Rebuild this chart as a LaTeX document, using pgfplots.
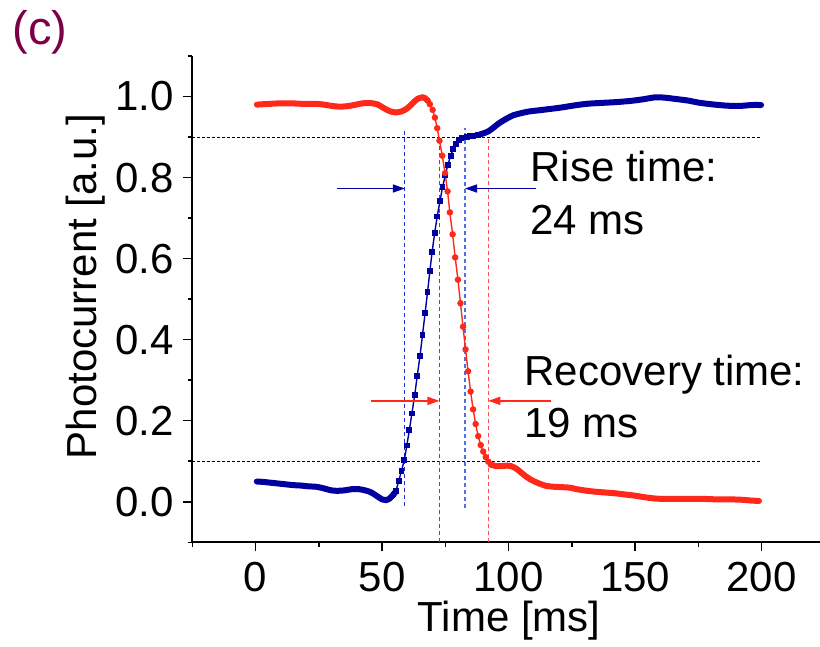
\documentclass[border=0pt]{standalone}
\usepackage{fontspec}
\setmainfont{Liberation Sans}
\usepackage{pgfplots}
\pgfplotsset{compat=1.18}
\usetikzlibrary{arrows.meta}
\definecolor{cblue}{RGB}{0,0,160}
\definecolor{cred}{RGB}{255,40,25}
\definecolor{clabel}{RGB}{122,0,72}
\definecolor{vblue1}{RGB}{30,50,220}
\definecolor{vblue2}{RGB}{80,110,235}
\definecolor{vred1}{RGB}{255,20,20}
\definecolor{vred2}{RGB}{255,80,80}
\newcommand{\bigf}{\fontsize{21}{25}\selectfont}
\begin{document}
\begin{tikzpicture}
\useasboundingbox (-96.15pt,-52.35pt) rectangle (313.85pt,271.15pt);
\begin{axis}[
  scale only axis, width=313.72pt, height=243.15pt,
  xmin=-25, xmax=223, ymin=-0.1, ymax=1.1,
  axis x line*=bottom, axis y line*=left,
  axis line style={line width=1pt, -},
  xtick={0,50,100,150,200}, minor xtick={-25,25,75,125,175},
  ytick={0,0.2,0.4,0.6,0.8,1.0}, minor ytick={-0.1,0.1,0.3,0.5,0.7,0.9,1.1},
  tick align=outside, major tick length=4.5pt, minor tick length=2.2pt,
  every tick/.style={line width=0.75pt, black},
  /pgf/number format/assume math mode=true,
  yticklabel style={/pgf/number format/.cd, fixed, fixed zerofill, precision=1, /tikz/.cd, font=\bigf, inner sep=0pt, xshift=-4.5pt},
  xticklabel style={font=\bigf, inner sep=0pt, yshift=-5pt},
  xlabel={Time [ms]}, ylabel={Photocurrent [a.u.]},
  xlabel style={at={(axis description cs:0.505,-0.1838)}, anchor=base, inner sep=0pt, font=\bigf},
  ylabel style={at={(axis description cs:-0.1524,0.526)}, anchor=base, inner sep=0pt, font=\bigf},
  clip=false,
]
% threshold lines
\addplot[black, line width=0.5pt, dash pattern=on 1.5pt off 1pt] coordinates {(-25,0.9) (200,0.9)};
\addplot[black, line width=0.5pt, dash pattern=on 1.5pt off 1pt] coordinates {(-25,0.1) (200,0.1)};
% vertical markers
\addplot[vblue1, line width=0.65pt, dash pattern=on 2pt off 1.5pt] coordinates {(59.0,-0.01) (59.0,0.915)};
\addplot[vblue2, line width=0.65pt, dash pattern=on 2pt off 1.5pt] coordinates {(82.8,-0.015) (82.8,0.923)};
\addplot[vred1, line width=0.65pt, dash pattern=on 2pt off 1.5pt] coordinates {(72.7,-0.1) (72.7,0.9)};
\addplot[vred2, line width=0.65pt, dash pattern=on 2pt off 1.5pt] coordinates {(92.0,-0.1) (92.0,0.9)};
% blue (rise) curve
\addplot[cblue, line width=3pt, smooth, line cap=round] coordinates {
(0.5,0.050) (3,0.049) (6,0.047) (9,0.045) (12,0.043) (15,0.041) (18,0.040) (21,0.038) (24,0.037) (27,0.033) (30,0.028) (32,0.027) (35,0.028) (38,0.031) (41,0.031) (44,0.027) (46,0.022) (48,0.014) (50,0.006) (51.5,0.004) (53,0.008) (54.5,0.018) (55.5,0.026)};
\addplot[cblue, line width=0.7pt, mark=square*, mark size=1.1pt] coordinates {
(54.5,0.018) (55.5,0.026) (56.6,0.052) (57.7,0.076) (58.8,0.104) (59.8,0.139) (60.8,0.177) (61.8,0.218) (62.9,0.263) (63.9,0.310) (65.0,0.360) (66.0,0.412) (67.0,0.465) (68.0,0.518) (68.9,0.569) (69.8,0.617) (70.8,0.663) (71.8,0.704) (72.9,0.742) (73.9,0.776) (75.0,0.806) (76.0,0.831) (77.1,0.854) (78.1,0.870) (79.2,0.883) (80.3,0.892) (81.4,0.897) (82.5,0.899) (83.6,0.901) (84.7,0.902) (85.8,0.903) (86.9,0.904) (88.0,0.905)};
\addplot[cblue, line width=3pt, smooth, line cap=round] coordinates {
(88,0.905) (90,0.909) (92,0.914) (94,0.923) (96,0.933) (98,0.941) (100,0.948) (102,0.954) (105,0.959) (108,0.963) (112,0.966) (116,0.969) (121,0.973) (126,0.978) (131,0.982) (136,0.984) (142,0.986) (148,0.989) (153,0.993) (158,0.998) (162,0.997) (166,0.994) (171,0.990) (175,0.985) (180,0.981) (185,0.978) (188,0.977) (192,0.977) (196,0.979) (199.8,0.979)};
% red (recovery) curve
\addplot[cred, line width=3pt, smooth, line cap=round] coordinates {
(0.5,0.980) (3,0.981) (6,0.982) (9,0.983) (12,0.983) (15,0.983) (18,0.982) (21,0.982) (24,0.982) (27,0.980) (30,0.977) (33,0.975) (36,0.976) (39,0.979) (42,0.983) (45,0.984) (48,0.981) (50,0.974) (52,0.967) (54,0.962) (56,0.961) (58,0.964) (60,0.971) (62,0.983) (64,0.994) (66,0.998) (67,0.996) (68,0.990)};
\addplot[cred, line width=0.7pt, mark=*, mark size=1.25pt] coordinates {
(68.0,0.990) (68.9,0.981) (70.0,0.967) (70.9,0.948) (71.8,0.922) (72.7,0.891) (73.8,0.854) (74.9,0.811) (75.9,0.766) (76.8,0.714) (77.9,0.660) (78.9,0.603) (80.0,0.548) (81.0,0.490) (82.0,0.432) (83.0,0.376) (84.0,0.322) (85.0,0.272) (86.0,0.228) (87.0,0.192) (88.0,0.162) (89.0,0.140) (90.0,0.124) (91.0,0.110) (92.0,0.099) (93.0,0.092)};
\addplot[cred, line width=3pt, smooth, line cap=round] coordinates {
(93,0.092) (95,0.088) (97,0.088) (99,0.089) (101,0.088) (103,0.082) (105,0.072) (107,0.062) (109,0.054) (111,0.048) (113,0.043) (115,0.039) (118,0.037) (121,0.036) (124,0.035) (127,0.031) (130,0.028) (134,0.025) (138,0.023) (142,0.021) (146,0.018) (150,0.015) (154,0.011) (158,0.008) (162,0.007) (167,0.007) (172,0.007) (177,0.007) (182,0.006) (187,0.006) (192,0.005) (196,0.003) (199,0.002)};
% arrows
\draw[cblue, line width=0.75pt, -{Triangle[length=6pt,width=4pt]}] (axis cs:32,0.773) -- (axis cs:59,0.773);
\draw[cblue, line width=0.75pt, -{Triangle[length=6pt,width=4pt]}] (axis cs:110.9,0.773) -- (axis cs:82.8,0.773);
\draw[cred, line width=0.75pt, -{Triangle[length=6pt,width=4pt]}] (axis cs:45.6,0.249) -- (axis cs:72.7,0.249);
\draw[cred, line width=0.75pt, -{Triangle[length=6pt,width=4pt]}] (axis cs:116.9,0.249) -- (axis cs:92.0,0.249);
% annotations
\node[anchor=base west, inner sep=0pt, font=\bigf] at (axis cs:108.5,0.790) {Rise time:};
\node[anchor=base west, inner sep=0pt, font=\bigf] at (axis cs:108.5,0.660) {24 ms};
\node[anchor=base west, inner sep=0pt, font=\bigf] at (axis cs:106.2,0.2874) {Recovery time:};
\node[anchor=base west, inner sep=0pt, font=\bigf] at (axis cs:106.2,0.1576) {19 ms};
\node[font=\fontsize{23.5}{27}\selectfont, text=clabel, inner sep=0pt] at (axis description cs:-0.2427,1.0494) {(c)};
\end{axis}
\end{tikzpicture}
\end{document}
